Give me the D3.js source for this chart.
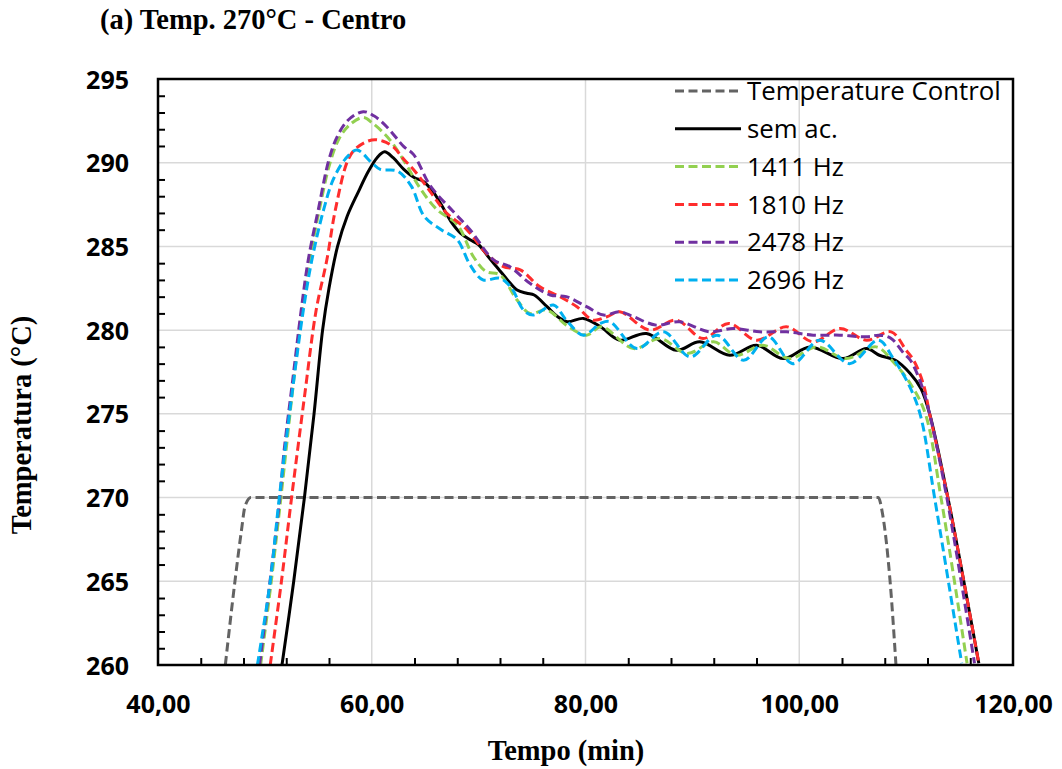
<!DOCTYPE html>
<html>
<head>
<meta charset="utf-8">
<script src="https://cdn.jsdelivr.net/npm/d3@7"></script>
<style>
  body { margin: 0; background: #fff; }
  .tick-lbl { font-family: "Open Sans", sans-serif; font-size: 25px; font-weight: 700; fill: #000; }
  .leg-lbl { font-family: "Open Sans", sans-serif; font-size: 25.8px; fill: #000; }
  .ttl { font-family: "Liberation Serif", "Times New Roman", serif; font-weight: bold; font-size: 28.5px; fill: #000; }
</style>
</head>
<body>
<div id="chart"></div>
<script>
// values: [time (min), temperature (°C)]
const controlData = [[46.3,260],[47.2,265],[47.8,268],[48.15,269.5],[48.7,270],[107.4,270],[107.8,269],[108.5,265],[109.05,260]];

const semAcData = [[51.6,260],[52.7,265],[53.7,270],[54.6,275],[55.4,280],[56.0,282.5],[56.8,285],[57.7,286.8],[58.7,288.2],[59.7,289.5],[60.5,290.3],[61.2,290.65],[62.0,290.3],[63.0,289.6],[64.0,289.1],[64.8,288.9],[65.7,288.3],[66.5,287.5],[67.4,286.5],[68.3,285.8],[69.2,285.4],[70.0,285.1],[71.0,284.3],[71.8,283.7],[72.7,283.0],[73.6,282.4],[74.5,282.2],[75.2,282.1],[76.4,281.4],[77.4,280.8],[78.3,280.5],[79.8,280.7],[81.4,280.2],[83.2,279.4],[85.7,279.8],[88.5,278.8],[90.7,279.3],[93.5,278.5],[96.0,279.1],[98.5,278.3],[101.0,279.0],[104.1,278.3],[106.3,278.9],[107.5,278.5],[109.0,278.2],[110.4,277.4],[111.4,276.5],[112.2,275.0],[113.95,269.85],[116.8,260.1]];

const hz1411Data = [[49.6,260],[50.6,265],[51.5,270],[52.7,277],[53.5,281.2],[54.2,284.2],[55.1,287.2],[56.1,290.0],[57.0,291.5],[58.0,292.3],[59.2,292.7],[60.1,292.35],[61.7,291.36],[63.3,289.8],[64.5,288.5],[66.1,287.2],[68.0,286.3],[69.5,284.4],[70.7,283.5],[72.0,283.3],[73.6,281.8],[74.8,281.0],[76.4,281.2],[78.2,280.3],[80.1,279.7],[81.5,280.2],[84.5,278.9],[87.0,279.5],[89.5,278.6],[92.0,279.3],[94.1,278.5],[96.6,279.1],[99.1,278.3],[101.6,279.0],[104.4,278.3],[107.2,279.0],[108.8,278.1],[110.4,276.8],[111.8,275.0],[113.3,269.85],[115.7,260.1]];

const hz1810Data = [[50.5,260],[51.55,265],[52.5,270],[53.7,276],[54.8,281.2],[55.8,284.2],[56.6,287.2],[57.8,290.2],[58.6,290.9],[60.0,291.36],[61.0,291.3],[62.0,290.96],[63.0,290.2],[63.9,289.6],[65.1,288.6],[66.0,287.8],[67.0,287.0],[68.9,286.0],[70.7,284.6],[72.3,283.8],[73.9,283.6],[75.7,282.6],[77.6,282.0],[79.2,281.4],[80.7,280.6],[82.0,280.8],[83.2,281.1],[86.0,280.0],[88.5,280.6],[91.0,279.5],[93.4,280.4],[96.0,279.4],[98.8,280.2],[101.3,279.3],[103.8,280.1],[106.3,279.4],[108.6,279.9],[110.0,278.8],[110.7,278.2],[111.6,276.8],[112.2,275.0],[113.95,269.85],[116.8,260.1]];

const hz2478Data = [[49.5,260],[50.5,265.1],[51.4,270],[51.8,272.8],[52.6,277],[53.4,281.2],[54.06,284.2],[55.0,287.2],[56.0,290.2],[56.8,291.6],[57.8,292.55],[59.2,293.05],[60.2,292.8],[61.4,292.15],[63.0,290.96],[63.9,290.5],[65.5,288.6],[67.6,287.1],[69.2,286.0],[71.4,284.2],[72.9,283.8],[74.8,282.8],[76.7,282.1],[78.2,282.0],[80.1,281.4],[81.7,280.9],[83.2,281.1],[84.5,280.8],[86.6,280.3],[88.8,280.5],[91.6,279.9],[93.8,280.1],[96.3,279.9],[98.8,279.9],[101.3,279.7],[103.8,279.7],[106.3,279.6],[107.5,279.7],[108.6,279.5],[109.8,278.6],[110.4,278.2],[111.4,276.8],[112.2,275.0],[113.85,269.85],[116.4,260.1]];

const hz2696Data = [[49.3,260],[50.5,265],[51.35,270],[52.5,276],[53.6,281.2],[54.4,284.2],[55.5,287.2],[56.4,289],[57.5,290.2],[58.6,290.76],[60.0,290.0],[60.8,289.6],[62.4,289.5],[63.7,288.6],[64.9,286.8],[66.5,286.0],[68.0,285.4],[69.2,283.9],[70.4,283.0],[72.0,283.1],[73.1,282.5],[74.2,281.2],[75.1,280.9],[77.0,281.5],[78.2,280.6],[79.8,279.7],[81.4,280.4],[82.3,280.5],[84.8,278.9],[87.3,279.9],[89.8,278.4],[92.3,279.7],[94.8,278.2],[97.1,279.6],[99.4,278.0],[101.9,279.4],[104.7,278.0],[107.4,279.4],[108.8,278.3],[110.2,276.8],[111.3,275.0],[112.7,269.85],[115.2,260.1]];

const seriesNames = ["Temperature Control", "sem ac.", "1411 Hz", "1810 Hz", "2478 Hz", "2696 Hz"];
const seriesColors = ["#636363", "#000000", "#92D050", "#FF2D2D", "#7030A0", "#00B0F0"];
const seriesDashed = [true, false, true, true, true, true];
const seriesData = [controlData, semAcData, hz1411Data, hz1810Data, hz2478Data, hz2696Data];

const xTicks = [40, 60, 80, 100, 120];
const yTicks = [260, 265, 270, 275, 280, 285, 290, 295];

const width = 1062, height = 769,
  margin = {top: 79, right: 49, bottom: 104, left: 158};

const svg = d3.select("#chart").append("svg")
  .attr("width", width).attr("height", height);

const x = d3.scaleLinear().domain([40, 120]).range([margin.left, width - margin.right]);
const y = d3.scaleLinear().domain([260, 295]).range([height - margin.bottom, margin.top]);

const loc = d3.formatLocale({decimal: ",", thousands: ".", grouping: [3], currency: ["", ""]});
const fmtX = loc.format(".2f");

// gridlines
svg.append("g").selectAll("line")
  .data(xTicks.slice(1, -1))
  .join("line")
  .attr("x1", d => x(d)).attr("x2", d => x(d))
  .attr("y1", y(295)).attr("y2", y(260))
  .attr("stroke", "#d9d9d9").attr("stroke-width", 1.5);

svg.append("g").selectAll("line")
  .data(yTicks.slice(1, -1))
  .join("line")
  .attr("x1", x(40)).attr("x2", x(120))
  .attr("y1", d => y(d)).attr("y2", d => y(d))
  .attr("stroke", "#d9d9d9").attr("stroke-width", 1.5);

// minor ticks inside
const minorX = d3.range(44, 120, 4).filter(v => v % 20 !== 0);
const minorY = d3.range(261, 295, 1).filter(v => v % 5 !== 0);

svg.append("g")
  .attr("transform", "translate(0," + y(260) + ")")
  .call(d3.axisBottom(x).tickValues(minorX).tickSize(-7).tickFormat(""))
  .call(g => g.select(".domain").remove())
  .call(g => g.selectAll("line").attr("stroke", "#000").attr("stroke-width", 2));

svg.append("g")
  .attr("transform", "translate(" + x(40) + ",0)")
  .call(d3.axisLeft(y).tickValues(minorY).tickSize(-7).tickFormat(""))
  .call(g => g.select(".domain").remove())
  .call(g => g.selectAll("line").attr("stroke", "#000").attr("stroke-width", 2));

// tick labels
svg.append("g")
  .attr("transform", "translate(0," + y(260) + ")")
  .call(d3.axisBottom(x).tickValues(xTicks).tickSize(0).tickPadding(0).tickFormat(fmtX))
  .call(g => g.select(".domain").remove())
  .call(g => g.selectAll("text").attr("class", "tick-lbl").attr("dy", null).attr("y", 48));

svg.append("g")
  .attr("transform", "translate(" + x(40) + ",0)")
  .call(d3.axisLeft(y).tickValues(yTicks).tickSize(0).tickPadding(0).tickFormat(d3.format("d")))
  .call(g => g.select(".domain").remove())
  .call(g => g.selectAll("text").attr("class", "tick-lbl").attr("x", -29).attr("dy", "0.36em"));

// clip for series
svg.append("clipPath").attr("id", "plotclip")
  .append("rect")
  .attr("x", x(40)).attr("y", y(295))
  .attr("width", x(120) - x(40)).attr("height", y(260) - y(295));

const smooth = d3.line()
  .x(d => x(d[0]))
  .y(d => y(d[1]))
  .curve(d3.curveCatmullRom.alpha(0.5));

// the control curve has a long flat stretch, monotone keeps it flat
const flat = d3.line()
  .x(d => x(d[0]))
  .y(d => y(d[1]))
  .curve(d3.curveMonotoneX);

const plot = svg.append("g").attr("clip-path", "url(#plotclip)");
seriesData.forEach((data, i) => {
  plot.append("path")
    .datum(data)
    .attr("fill", "none")
    .attr("stroke", seriesColors[i])
    .attr("stroke-width", 3)
    .attr("stroke-dasharray", seriesDashed[i] ? "9,4.5" : null)
    .attr("d", i === 0 ? flat : smooth);
});

// frame
svg.append("rect")
  .attr("x", x(40)).attr("y", y(295))
  .attr("width", x(120) - x(40)).attr("height", y(260) - y(295))
  .attr("fill", "none").attr("stroke", "#000").attr("stroke-width", 2.5);

// legend
const legend = svg.append("g");
seriesNames.forEach((name, i) => {
  const ly = 91 + i * 37.8;
  legend.append("line")
    .attr("x1", 675).attr("x2", 741)
    .attr("y1", ly).attr("y2", ly)
    .attr("stroke", seriesColors[i])
    .attr("stroke-width", 3)
    .attr("stroke-dasharray", seriesDashed[i] ? "9,4.5" : null);
  legend.append("text")
    .attr("class", "leg-lbl")
    .attr("x", 747).attr("y", ly)
    .attr("dy", "0.36em")
    .text(name);
});

// titles
svg.append("text").attr("class", "ttl")
  .attr("x", 100).attr("y", 29)
  .text("(a) Temp. 270°C - Centro");

svg.append("text").attr("class", "ttl")
  .attr("x", 566).attr("y", 760)
  .attr("text-anchor", "middle")
  .text("Tempo (min)");

svg.append("text").attr("class", "ttl")
  .attr("transform", "translate(31,425) rotate(-90)")
  .attr("text-anchor", "middle")
  .text("Temperatura (°C)");
</script>
</body>
</html>
